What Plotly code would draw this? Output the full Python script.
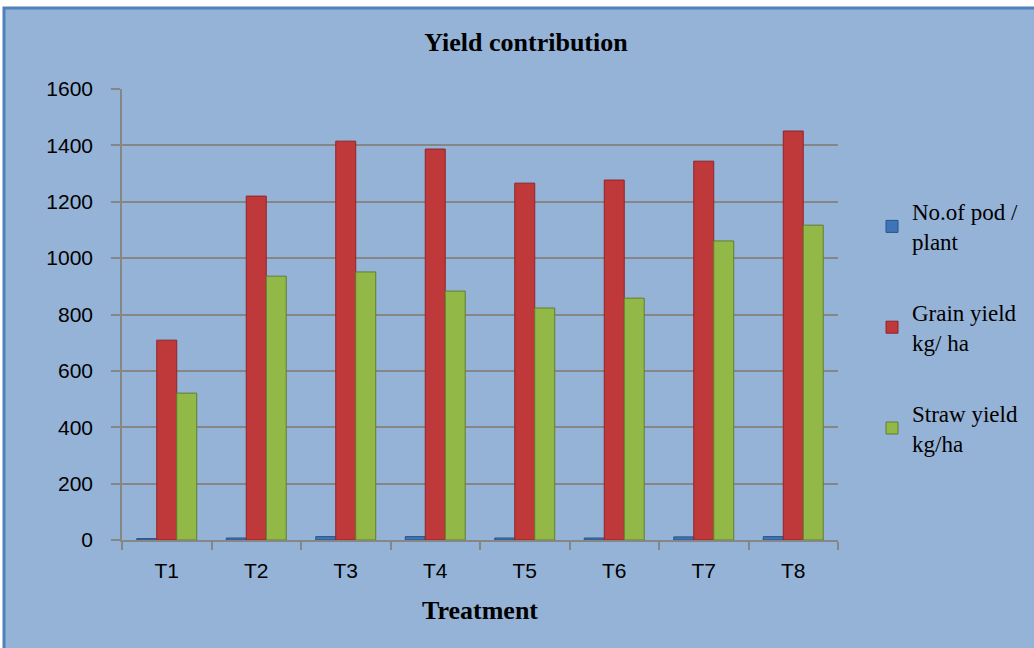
import plotly.graph_objects as go

categories = ["T1", "T2", "T3", "T4", "T5", "T6", "T7", "T8"]
pods_per_plant = [5, 7, 12, 12, 7, 7, 11, 12]
grain_yield = [709, 1220, 1415, 1387, 1266, 1277, 1344, 1451]
straw_yield = [521, 936, 951, 883, 823, 858, 1061, 1117]
y_ticks = [0, 200, 400, 600, 800, 1000, 1200, 1400, 1600]

series = [
    ("No.of pod /<br>plant", pods_per_plant, "#3E74B8", "#2A5286"),
    ("Grain yield<br>kg/ ha", grain_yield, "#C0393A", "#8E2526"),
    ("Straw yield<br>kg/ha", straw_yield, "#92B848", "#617E2C"),
]

fig = go.Figure()
for i, (name, vals, col, edge) in enumerate(series):
    fig.add_trace(go.Bar(
        x=categories, y=vals, name=name, legendgroup=f"g{i}",
        marker=dict(color=col, line=dict(color=edge, width=1)),
    ))

W, H = 1034, 648
L, R, T, B = 122, 838, 89, 540

def px(x):
    return (x - L) / (R - L)

def py(y):
    return (B - y) / (B - T)

serif = "Liberation Serif, Times New Roman, serif"
sans = "Liberation Sans, Arial, sans-serif"

fig.update_layout(
    width=W, height=H,
    margin=dict(l=L, r=W - R, t=T, b=H - B, pad=0, autoexpand=False),
    paper_bgcolor="white",
    plot_bgcolor="white",
    barmode="group",
    bargap=0.33,
    bargroupgap=0,
    title=dict(text="<b>Yield contribution</b>", x=526 / W, xanchor="center",
               y=1 - 42 / H, yanchor="middle",
               font=dict(family=serif, size=26, color="black")),
    legend=dict(x=px(872), y=py(190), xanchor="left", yanchor="top",
                bgcolor="rgba(0,0,0,0)", tracegroupgap=38,
                font=dict(family=serif, size=23, color="black"),
                itemwidth=30),
    showlegend=True,
    xaxis=dict(
        showline=True, linecolor="#868686", linewidth=1.5,
        ticks="outside", tickson="boundaries", ticklen=8, tickcolor="#868686", tickwidth=1.5,
        ticklabelstandoff=11,
        tickfont=dict(family=sans, size=21, color="black"),
        title=dict(text="<b>Treatment</b>", standoff=20,
                   font=dict(family=serif, size=26, color="black")),
    ),
    yaxis=dict(
        range=[0, 1600], tickvals=y_ticks,
        showline=True, linecolor="#868686", linewidth=1.5,
        ticks="outside", ticklen=9, tickcolor="#868686", tickwidth=1.5,
        ticklabelstandoff=14,
        showgrid=True, gridcolor="#868686", gridwidth=1.5,
        zeroline=False,
        tickfont=dict(family=sans, size=21, color="black"),
    ),
    shapes=[
        dict(type="rect", xref="paper", yref="paper",
             x0=px(4), x1=px(W + 20), y0=py(8), y1=py(H + 20),
             fillcolor="#95B3D7", line=dict(color="#4F81BD", width=3), layer="below"),
    ],
)

fig.write_html("out.html", config={"displayModeBar": False},
               post_script="document.body.style.margin='0';")
